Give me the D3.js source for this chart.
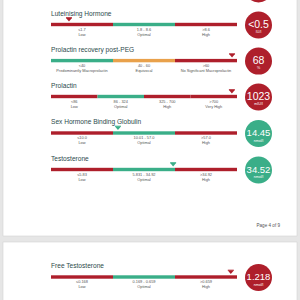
<!DOCTYPE html>
<html><head><meta charset="utf-8">
<script src="https://cdn.jsdelivr.net/npm/d3@7"></script>
<style>html,body{margin:0;padding:0;background:#e6e6e6;}svg{display:block;}</style>
</head><body>
<svg id="c" width="300" height="300"></svg>
<script>
const titles = ["Luteinising Hormone","Prolactin recovery post-PEG","Prolactin","Sex Hormone Binding Globulin","Testosterone","Free Testosterone"];
const rangeLabels = [
  ["≤1.7","1.8 - 8.6",">8.6"],
  ["<40","40 - 60",">60"],
  ["<86","86 - 324","325 - 700",">700"],
  ["≤10.0","10.01 - 57.0",">57.0"],
  ["≤5.83","5.831 - 34.92",">34.92"],
  ["≤0.168","0.169 - 0.659",">0.659"]
];
const rangeNames = [
  ["Low","Optimal","High"],
  ["Predominantly Macroprolactin","Equivocal","No Significant Macroprolactin"],
  ["Low","Optimal","High","Very High"],
  ["Low","Optimal","High"],
  ["Low","Optimal","High"],
  ["Low","Optimal","High"]
];
const rangeStatus = [
  ["bad","good","bad"],
  ["good","warn","bad"],
  ["bad","good","bad","bad"],
  ["bad","good","bad"],
  ["bad","good","bad"],
  ["bad","good","bad"]
];
// marker position in segment units
const markerPos = [0.29, 2.92, 3.89, 1.08, 1.97, 2.9];
const resultValues = ["<0.5","68","1023","14.45","34.52","1.218"];
const resultUnits = ["IU/l","%","mIU/l","nmol/l","nmol/l","nmol/l"];
const resultStatus = ["bad","bad","bad","good","good","bad"];

const colors = {bad:"#ae1f2b", good:"#3aae88", warn:"#e9a14b"};
const svg = d3.select("#c");
const font = "Liberation Sans, Arial, sans-serif";

// pages
svg.append("rect").attr("x",3).attr("y",-5).attr("width",294).attr("height",241).attr("fill","#fff").attr("stroke","#d4d4d4").attr("stroke-width",0.6);
svg.append("rect").attr("x",3).attr("y",242).attr("width",294).attr("height",70).attr("fill","#fff").attr("stroke","#d4d4d4").attr("stroke-width",0.6);

// previous circle cut at top
svg.append("circle").attr("cx",258.5).attr("cy",-11).attr("r",13.5).attr("fill",colors.bad);

const barY = [24.5, 60.6, 96.5, 133, 169.5, 277];
const x0 = 51, x1 = 237;

titles.forEach((t,i)=>{
  const n = rangeLabels[i].length;
  const xs = d3.scaleLinear().domain([0,n]).range([x0,x1]);
  const g = svg.append("g");
  const y = barY[i];
  g.append("text").attr("x",x0).attr("y",y-9).attr("font-family",font).attr("font-size",6.6)
    .attr("fill","#2c4a4c").text(t);
  d3.range(n).forEach(k=>{
    g.append("rect").attr("x",xs(k)).attr("y",y-1.7).attr("width",xs(k+1)-xs(k)).attr("height",3.4)
      .attr("fill",colors[rangeStatus[i][k]]);
    const cx = (xs(k)+xs(k+1))/2;
    g.append("text").attr("x",cx).attr("y",y+6.3).attr("text-anchor","middle").attr("font-family",font)
      .attr("font-size",3.9).attr("fill","#555").text(rangeLabels[i][k]);
    g.append("text").attr("x",cx).attr("y",y+11).attr("text-anchor","middle").attr("font-family",font)
      .attr("font-size",3.9).attr("fill","#555").text(rangeNames[i][k]);
  });
  const mx = xs(markerPos[i]);
  const seg = Math.min(n-1, Math.floor(markerPos[i]));
  const mc = colors[rangeStatus[i][seg]];
  g.append("path").attr("d",`M${mx-3},${y-6.5}L${mx+3},${y-6.5}L${mx},${y-3}Z`).attr("fill",mc);
  g.append("rect").attr("x",mx-3).attr("y",y-7.3).attr("width",6).attr("height",1).attr("fill",mc);
  const rc = colors[resultStatus[i]];
  g.append("circle").attr("cx",258.5).attr("cy",y+0.5).attr("r",13.5).attr("fill",rc);
  g.append("text").attr("x",258.5).attr("y",y+3).attr("text-anchor","middle").attr("font-family",font)
    .attr("font-size",resultValues[i].length>4?9.5:10.5).attr("fill","#fff").text(resultValues[i]);
  g.append("text").attr("x",258.5).attr("y",y+8.5).attr("text-anchor","middle").attr("font-family",font)
    .attr("font-size",3.6).attr("fill","#fff").text(resultUnits[i]);
});

svg.append("text").attr("x",280).attr("y",226.5).attr("text-anchor","end").attr("font-family",font)
  .attr("font-size",4.6).attr("fill","#555").text("Page 4 of 9");
</script>
</body></html>
